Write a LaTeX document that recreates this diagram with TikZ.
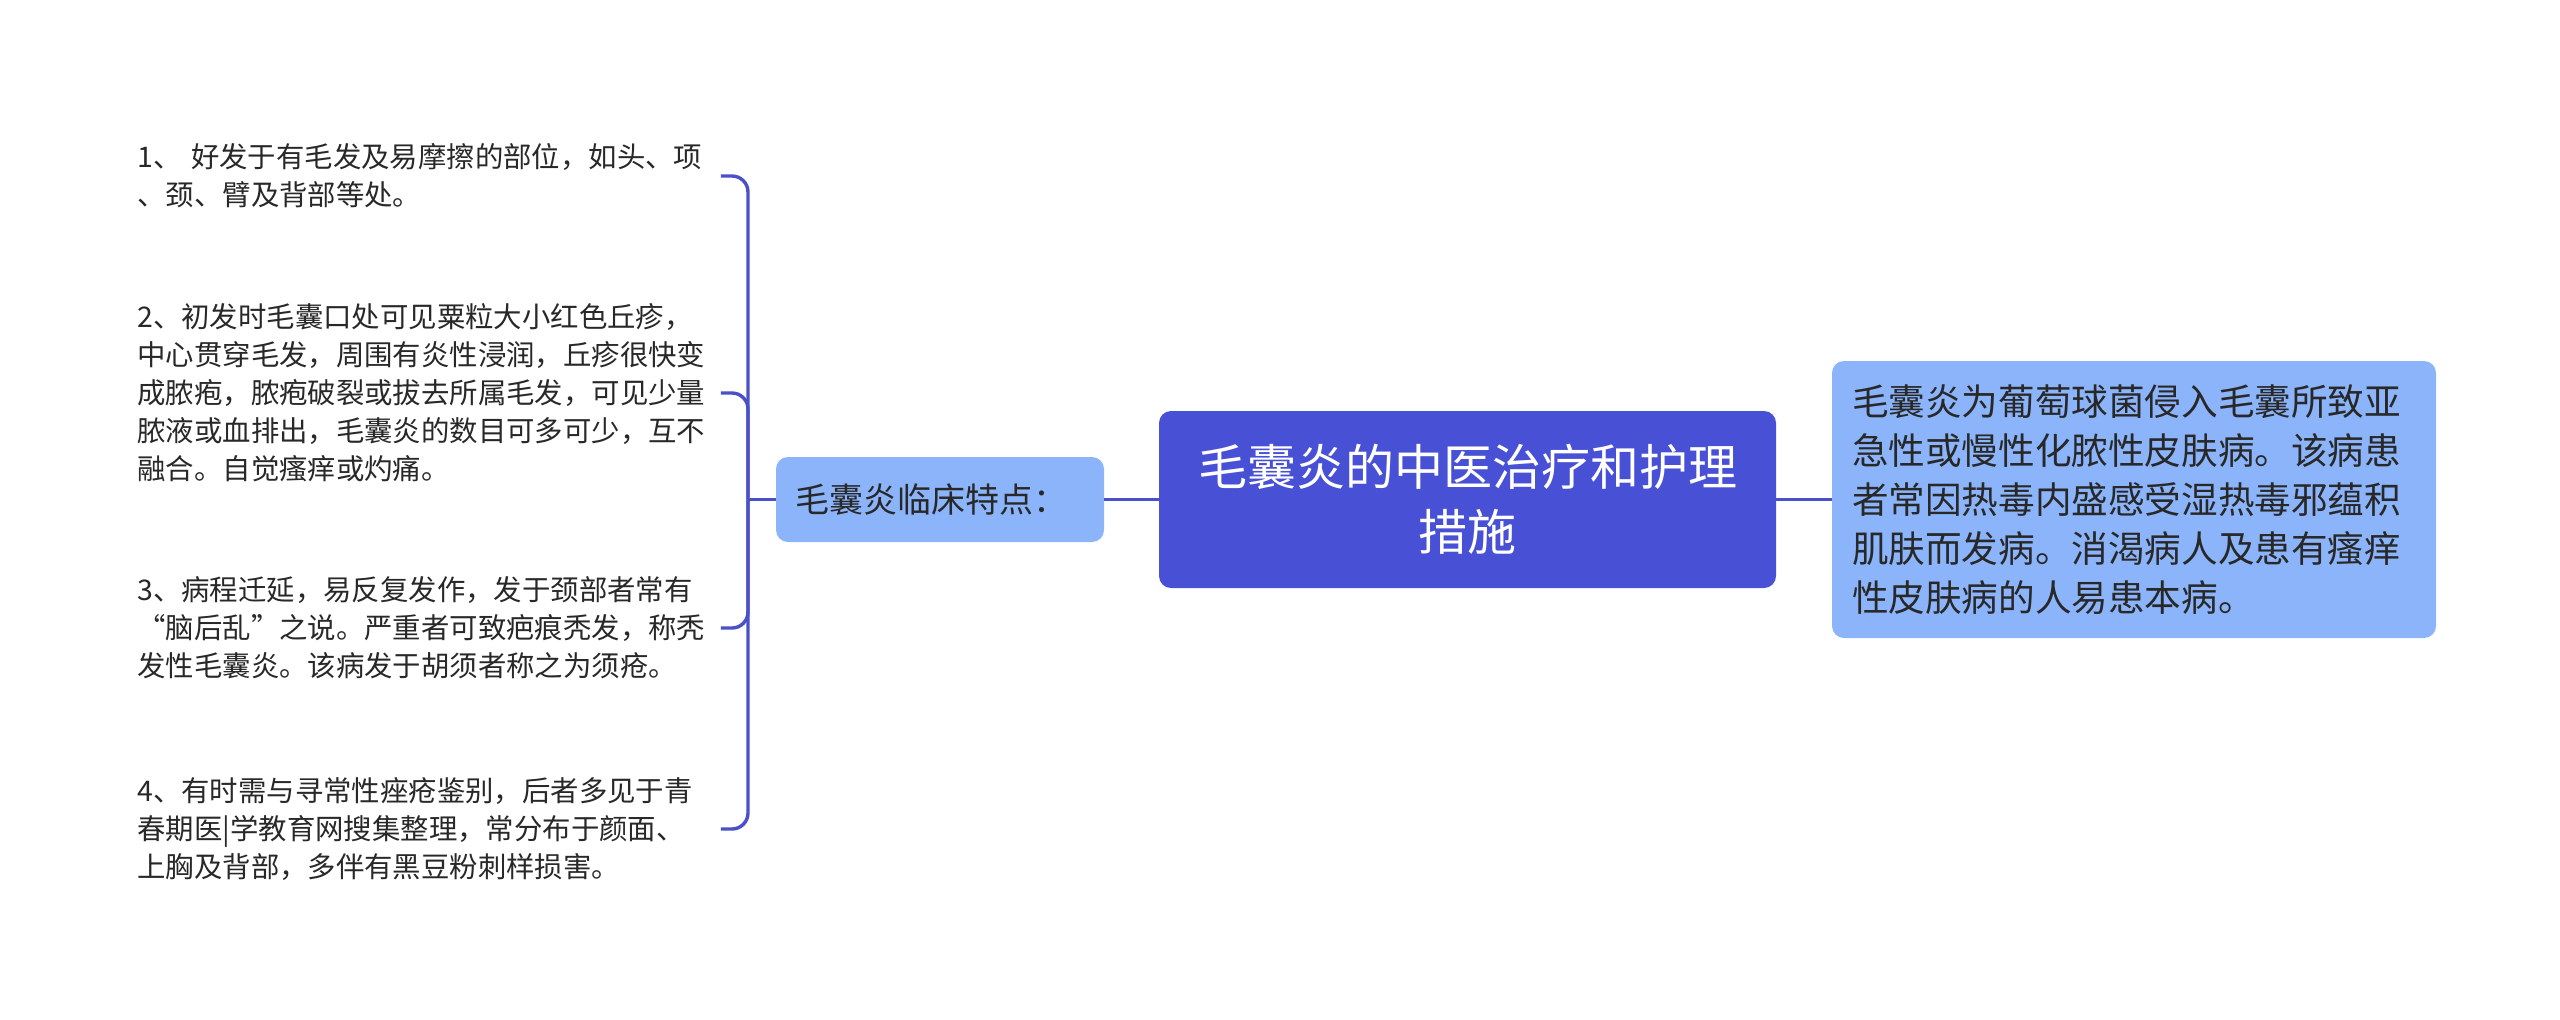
\documentclass[tikz,border=0pt]{standalone}
\usepackage{fontspec}
\setmainfont{Noto Sans CJK SC}
\definecolor{cdark}{RGB}{72,81,214}
\definecolor{clight}{RGB}{139,180,250}
\definecolor{lineblue}{RGB}{74,80,200}
\definecolor{textgray}{RGB}{40,40,40}
\begin{document}
\begin{tikzpicture}[x=0.5pt,y=-0.5pt,
  central/.style={fill=cdark, text=white, rounded corners=6pt, minimum width=308.5pt, minimum height=88.5pt, align=center, inner sep=0pt, font=\fontsize{24.5}{32.5}\selectfont},
  rightbox/.style={fill=clight, text=textgray, rounded corners=6pt, text width=282pt, inner xsep=10pt, minimum height=138.5pt, align=left, font=\fontsize{18.3}{24.5}\selectfont},
  midbox/.style={fill=clight, text=textgray, rounded corners=6pt, text width=145pt, inner xsep=9.5pt, minimum height=42.5pt, align=left, font=\fontsize{17}{20}\selectfont},
  item/.style={anchor=west, text width=291.5pt, inner sep=0pt, align=left, text=textgray, font=\fontsize{14.2}{19}\selectfont},
  conn/.style={draw=lineblue, line width=1.7pt}
]
\useasboundingbox[fill=white] (0,0) rectangle (2560,1019);

\node[central] (c) at (1467.5,499.5) {毛囊炎的中医治疗和护理\\措施};
\node[rightbox] (r) at (2134,499.5) {毛囊炎为葡萄球菌侵入毛囊所致亚\\急性或慢性化脓性皮肤病。该病患\\者常因热毒内盛感受湿热毒邪蕴积\\肌肤而发病。消渴病人及患有瘙痒\\性皮肤病的人易患本病。};
\node[midbox] (m) at (940,499.5) {毛囊炎临床特点：};

\node[item] (i1) at (137,176) {1、 好发于有毛发及易摩擦的部位，如头、项\\、颈、臂及背部等处。};
\node[item] (i2) at (137,393) {2、初发时毛囊口处可见粟粒大小红色丘疹，\\中心贯穿毛发，周围有炎性浸润，丘疹很快变\\成脓疱，脓疱破裂或拔去所属毛发，可见少量\\脓液或血排出，毛囊炎的数目可多可少，互不\\融合。自觉瘙痒或灼痛。};
\node[item] (i3) at (137,628) {3、病程迁延，易反复发作，发于颈部者常有\\“脑后乱”之说。严重者可致疤痕秃发，称秃\\发性毛囊炎。该病发于胡须者称之为须疮。};
\node[item] (i4) at (137,829) {4、有时需与寻常性痤疮鉴别，后者多见于青\\春期医|学教育网搜集整理，常分布于颜面、\\上胸及背部，多伴有黑豆粉刺样损害。};

\coordinate (hub) at (748,499.5);

\draw[conn] (c.east) -- (r.west);
\draw[conn] (c.west) -- (m.east);
\draw[conn] (m.west) -- (hub);
\draw[conn, rounded corners=8pt] (hub) |- (i1.east);
\draw[conn, rounded corners=8pt] (hub) |- (i2.east);
\draw[conn, rounded corners=8pt] (hub) |- (i3.east);
\draw[conn, rounded corners=8pt] (hub) |- (i4.east);
\end{tikzpicture}
\end{document}
